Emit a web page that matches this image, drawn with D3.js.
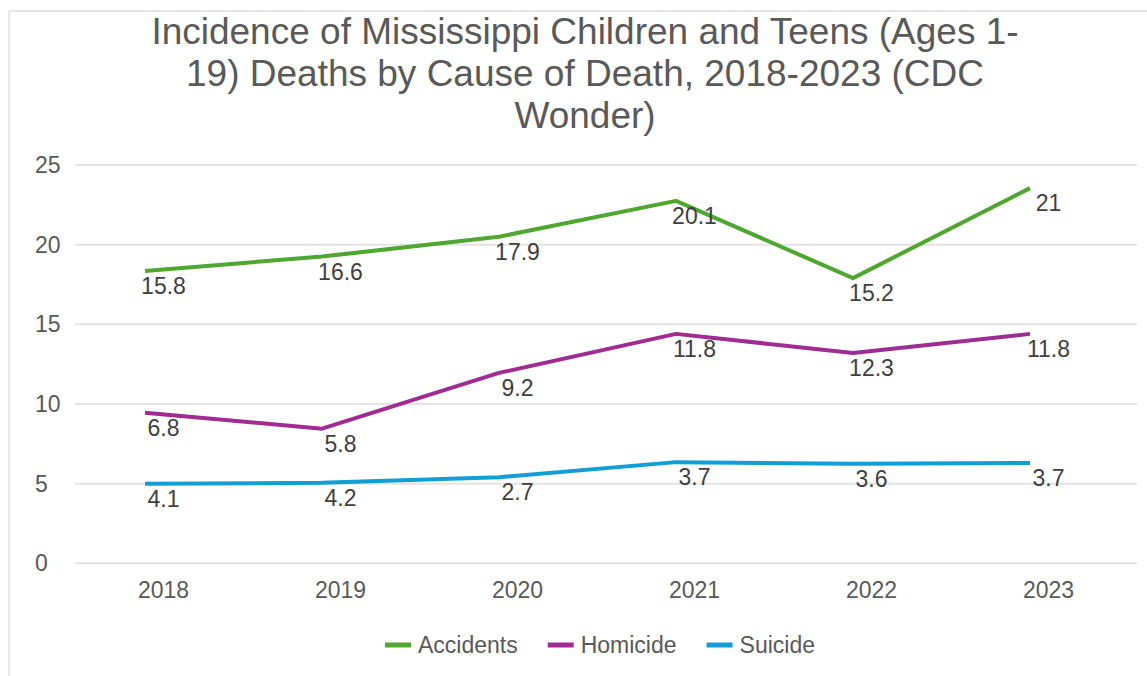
<!DOCTYPE html>
<html lang="en">
<head>
<meta charset="utf-8">
<title>Mississippi Children and Teens Deaths by Cause</title>
<script src="https://cdnjs.cloudflare.com/ajax/libs/d3/7.8.5/d3.min.js"></script>
<style>
  body { margin: 0; background: #fff; }
  svg text { font-family: "Liberation Sans", Arial, sans-serif; }
</style>
</head>
<body>
<svg width="1147" height="676"></svg>
<script>
// data
var years = ["2018", "2019", "2020", "2021", "2022", "2023"];
var accidents = [18.35, 19.25, 20.5, 22.75, 17.9, 23.55];
var homicide = [9.45, 8.45, 11.95, 14.4, 13.2, 14.4];
var suicide = [5.0, 5.05, 5.4, 6.35, 6.25, 6.3];
// the printed labels do not match the plotted points in the original
var accidentsLabels = ["15.8", "16.6", "17.9", "20.1", "15.2", "21"];
var homicideLabels = ["6.8", "5.8", "9.2", "11.8", "12.3", "11.8"];
var suicideLabels = ["4.1", "4.2", "2.7", "3.7", "3.6", "3.7"];
var yTicks = [0, 5, 10, 15, 20, 25];
var titleLines = ["Incidence of Mississippi Children and Teens (Ages 1-",
                  "19) Deaths by Cause of Death, 2018-2023 (CDC",
                  "Wonder)"];

var series = [
  {name: "Accidents", values: accidents, labels: accidentsLabels, color: "#4ea72e"},
  {name: "Homicide", values: homicide, labels: homicideLabels, color: "#a02b93"},
  {name: "Suicide", values: suicide, labels: suicideLabels, color: "#0f9ed5"}
];

var svg = d3.select("svg");

// frame (top and left edge of the chart box)
svg.append("line").attr("x1", 9).attr("x2", 1147).attr("y1", 11).attr("y2", 11)
   .attr("stroke", "#e6e6e6").attr("stroke-width", 2);
svg.append("line").attr("x1", 9).attr("x2", 9).attr("y1", 11).attr("y2", 676)
   .attr("stroke", "#e6e6e6").attr("stroke-width", 2);

// title
svg.append("g").selectAll("text")
   .data(titleLines)
   .enter().append("text")
   .attr("x", 585)
   .attr("y", function(d, i) { return 44 + i * 42; })
   .attr("text-anchor", "middle")
   .style("font-size", "37px")
   .style("fill", "#595959")
   .text(function(d) { return d; });

var x = d3.scaleBand().domain(years).range([75, 1137]);
var xp = d3.scalePoint().domain(years).range([145, 1030]);
var y = d3.scaleLinear().domain([0, 25]).range([563.3, 165]);

// gridlines
svg.append("g").selectAll("line")
   .data(yTicks)
   .enter().append("line")
   .attr("x1", 75).attr("x2", 1137)
   .attr("y1", function(d) { return y(d); })
   .attr("y2", function(d) { return y(d); })
   .attr("stroke", "#e3e3e3")
   .attr("stroke-width", 2);

// y tick labels (left aligned as in the original)
svg.append("g").selectAll("text")
   .data(yTicks)
   .enter().append("text")
   .attr("x", 35)
   .attr("y", function(d) { return y(d); })
   .attr("dy", "0.35em")
   .style("font-size", "23px")
   .style("fill", "#595959")
   .text(function(d) { return d; });

// x axis labels
var xAxis = svg.append("g")
   .attr("transform", "translate(0,572)")
   .call(d3.axisBottom(x).tickSize(0).tickPadding(0));
xAxis.select(".domain").remove();
xAxis.selectAll("text")
   .attr("y", 26)
   .attr("dy", 0)
   .style("font-size", "23px")
   .style("font-family", "'Liberation Sans', Arial, sans-serif")
   .style("fill", "#595959");

var line = d3.line()
   .x(function(d, i) { return xp(years[i]); })
   .y(function(d) { return y(d); });

series.forEach(function(s) {
  svg.append("path")
     .datum(s.values)
     .attr("fill", "none")
     .attr("stroke", s.color)
     .attr("stroke-width", 4)
     .attr("stroke-linejoin", "round")
     .attr("d", line);
});

series.forEach(function(s) {
  svg.append("g").selectAll("text")
     .data(s.labels)
     .enter().append("text")
     .attr("x", function(d, i) { return x(years[i]) + x.bandwidth() / 2; })
     .attr("y", function(d, i) { return y(s.values[i]) + 15; })
     .attr("dy", "0.35em")
     .attr("text-anchor", "middle")
     .style("font-size", "23px")
     .style("fill", "#404040")
     .text(function(d) { return d; });
});

// legend
var legend = svg.append("g");
var lx = 0;
series.forEach(function(s) {
  var item = legend.append("g").attr("transform", "translate(" + lx + ",0)");
  item.append("line").attr("x1", 0).attr("x2", 26).attr("y1", 0).attr("y2", 0)
      .attr("stroke", s.color).attr("stroke-width", 5);
  var t = item.append("text").attr("x", 33).attr("dy", "0.35em")
      .style("font-size", "23px").style("fill", "#595959").text(s.name);
  lx += 33 + t.node().getComputedTextLength() + 30;
});
var legendW = lx - 30;
legend.attr("transform", "translate(" + (600 - legendW / 2) + ",645)");
</script>
</body>
</html>
